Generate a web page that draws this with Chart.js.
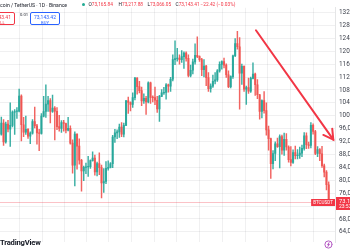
<!DOCTYPE html>
<html><head><meta charset="utf-8">
<script src="https://cdn.jsdelivr.net/npm/chart.js@4.4.1/dist/chart.umd.min.js"></script>
<style>
html,body{margin:0;padding:0;background:#fff;overflow:hidden}
#wrap{position:relative;width:350px;height:250px;overflow:hidden;font-family:Roboto,"Liberation Sans",sans-serif;color:#131722}
#c{position:absolute;left:0;top:0}
.t{position:absolute;white-space:nowrap;line-height:1}
.h{font-size:4.8px;top:2.8px}
.box{position:absolute;box-sizing:border-box;border:1px solid;border-radius:2px;background:#fff;text-align:center;line-height:1}
.box .p{display:block;font-size:5px;margin-top:1.6px}
.box .s{display:block;font-size:4.2px;margin-top:1.2px}
.dot{position:absolute;left:81.8px;top:3.3px;width:3.2px;height:3.2px;border-radius:50%;background:#22ab94}
.k{color:#131722}.v{color:#f23645}
</style></head>
<body>
<div id="wrap">
<canvas id="c" width="350" height="250"></canvas>
<div class="t h" id="title" style="font-size:5.1px;top:2.6px"><span id="bit">Bit</span>coin / TetherUS · 1D · Binance</div>
<div class="dot"></div>
<div class="t h" style="left:88.5px"><span class="k">O</span><span class="v">73,165.84</span></div>
<div class="t h" style="left:118.5px"><span class="k">H</span><span class="v">73,217.88</span></div>
<div class="t h" style="left:147.5px"><span class="k">L</span><span class="v">73,066.05</span></div>
<div class="t h" style="left:175.5px"><span class="k">C</span><span class="v">73,143.41</span></div>
<div class="t h v" style="left:200.5px">−22.42 (−0.03%)</div>
<div class="box" style="left:-15px;top:12px;width:30px;height:13px;border-color:#f23645;color:#f23645"><span class="p">73,143.41</span><span class="s">SELL</span></div>
<div class="t" style="left:20px;top:13.2px;font-size:4.2px">0.01</div>
<div class="box" style="left:30px;top:12px;width:30px;height:13px;border-color:#2962ff;color:#2962ff"><span class="p">73,143.42</span><span class="s">BUY</span></div>
<div class="t" style="left:0px;top:238.5px;font-size:7.6px;font-weight:700;letter-spacing:-0.2px">TradingView</div>
</div>
<script>
// 3-day candles (thousand USDT), first candle centred on day 1 (21 Nov 2024)
const opens = [
94.3,97.7,91.9,97.4,95.8,97.0,101.1,101.3,101.4,106.1,
97.2,94.9,95.8,93.7,94.6,98.2,96.9,94.7,94.5,99.9,
101.3,103.6,104.7,101.3,102.4,101.4,96.6,96.1,97.9,97.6,
95.5,96.1,91.5,84.7,94.3,90.6,86.2,82.9,84.0,84.1,
84.2,86.1,86.9,82.6,85.2,83.9,79.2,79.6,83.7,84.0,
85.1,93.4,94.7,95.0,96.5,94.3,97.0,104.6,104.1,103.5,
105.6,111.7,109.0,107.8,104.6,105.4,104.3,110.2,105.7,105.6,
104.8,102.1,106.0,107.1,107.2,109.6,109.2,111.3,117.4,117.7,
117.9,117.4,118.3,119.4,117.8,112.5,114.1,116.7,118.7,118.3,
117.4,114.3,115.4,111.8,108.4,109.2,110.7,111.1,113.9,115.9,
116.8,115.7,112.7,109.0,112.1,118.6,122.4,121.4,113.2,115.3,
108.2,108.7,107.6,111.6,112.9,109.6,106.5,101.3,104.7,101.6,
95.6,92.9,85.1,88.3,91.3,90.4,93.5,89.3,92.7,90.3,
86.4,85.5,88.6,87.6,87.8,88.4,89.9,93.8,91.0,90.8,
97.0,95.1,88.3,89.5,88.2,84.5,82.5,78.6];
const highs = [
99.6,98.8,98.0,98.6,104.0,101.5,101.9,102.5,108.3,106.5,
99.5,99.9,96.0,95.0,98.8,102.7,97.3,95.8,100.7,106.0,
109.6,106.0,105.3,106.4,102.8,102.5,100.1,98.5,98.6,97.7,
99.5,96.9,92.5,95.0,94.4,92.8,86.5,84.4,85.3,87.4,
86.3,88.8,87.8,85.6,88.5,84.7,83.6,85.8,86.0,85.5,
93.9,95.8,95.6,97.4,97.9,97.7,104.8,105.8,104.3,107.1,
111.9,111.8,110.7,108.9,106.8,106.0,110.5,110.4,106.2,108.9,
106.0,106.3,108.1,108.8,110.0,109.8,111.9,118.9,123.2,120.9,
118.9,120.2,119.8,119.8,118.9,115.7,117.6,122.3,124.5,118.6,
117.8,117.4,115.6,113.4,109.9,112.6,113.4,114.3,116.7,117.0,
117.9,116.1,113.9,112.4,118.8,123.9,126.2,124.2,116.0,115.5,
109.2,111.7,112.0,116.4,113.2,111.2,106.6,104.9,107.5,104.0,
96.8,93.1,89.2,91.9,93.1,94.1,94.0,94.6,94.5,90.7,
90.4,89.4,90.6,89.5,90.3,90.9,94.8,94.7,91.8,97.9,
97.5,95.5,90.4,89.8,90.5,85.0,83.0,79.5];
const lows = [
94.0,90.8,91.5,95.0,90.5,96.5,94.2,99.2,101.2,92.2,
93.5,94.2,93.0,91.3,94.3,96.2,91.2,89.2,94.3,99.6,
99.5,101.3,97.8,101.0,92.5,95.7,95.2,94.8,95.2,94.7,
95.3,91.2,82.2,78.2,83.4,85.0,76.6,79.9,82.0,81.2,
83.7,85.9,81.6,81.3,81.7,74.5,76.2,78.9,83.1,83.8,
83.9,91.7,92.9,93.3,93.5,93.4,96.9,100.7,101.5,102.6,
104.9,106.7,107.1,103.1,103.8,100.4,104.0,103.8,104.3,103.4,
101.0,98.2,105.9,106.6,105.1,107.3,107.5,110.8,115.8,116.9,
116.0,116.5,114.7,116.9,112.0,112.0,113.0,116.0,118.0,116.8,
112.4,112.0,109.3,107.5,107.3,108.8,109.9,110.6,113.5,114.4,
114.8,111.9,108.7,108.6,111.6,118.3,120.6,102.0,109.7,107.5,
103.5,106.9,107.2,111.4,106.3,105.3,98.9,99.3,100.8,94.0,
89.3,80.6,83.5,86.1,90.2,83.8,88.1,87.7,89.3,85.6,
84.4,85.2,86.6,86.6,86.8,87.3,89.3,89.8,89.9,90.0,
94.3,87.9,87.3,86.1,84.0,81.0,77.0,72.8];
const closes = [
97.7,91.9,97.4,95.8,97.0,101.1,101.3,101.4,106.1,97.2,
94.9,95.8,93.7,94.6,98.2,96.9,94.7,94.5,99.9,101.3,
103.6,104.7,101.3,102.4,101.4,96.6,96.1,97.9,97.6,95.5,
96.1,91.5,84.7,94.3,90.6,86.2,82.9,84.0,84.1,84.2,
86.1,86.9,82.6,85.2,83.9,79.2,79.6,83.7,84.0,85.1,
93.4,94.7,95.0,96.5,94.3,97.0,104.6,104.1,103.5,105.6,
111.7,109.0,107.8,104.6,105.4,104.3,110.2,105.7,105.6,104.8,
102.1,106.0,107.1,107.2,109.6,109.2,111.3,117.4,117.7,117.9,
117.4,118.3,119.4,117.8,112.5,114.1,116.7,118.7,118.3,117.4,
114.3,115.4,111.8,108.4,109.2,110.7,111.1,113.9,115.9,116.8,
115.7,112.7,109.0,112.1,118.6,122.4,121.4,113.2,115.3,108.2,
108.7,107.6,111.6,112.9,109.6,106.5,101.3,104.7,101.6,95.6,
92.9,85.1,88.3,91.3,90.4,93.5,89.3,92.7,90.3,86.4,
85.5,88.6,87.6,87.8,88.4,89.9,93.8,91.0,90.8,97.0,
95.1,88.3,89.5,88.2,84.5,82.5,78.6,73.14];
// month starts (days since 21 Nov 2024) for the vertical grid
const monthDays = [10,41,72,100,131,161,192,222,253,284,314,345,375,406,437];
// price scale ticks (thousand)
const priceTicks = [64,68,72,76,80,84,88,92,96,100,104,108,112,116,120,124,128,132];
// drawn trend arrow: [day, price]
const arrowFrom = [344, 126.5];
const arrowTo = [448.2, 92.6];
const symbolTag = 'BTCUSDT';
const countdown = '23:52:18';

document.getElementById('title').style.left = (-document.getElementById('bit').offsetWidth) + 'px';

const up = 'rgba(38,166,154,0.9)', dn = 'rgba(239,83,80,0.9)';
const cols = closes.map((c, i) => c >= opens[i] ? up : dn);
const wickData = closes.map((c, i) => ({x: i * 3 + 1, y: [lows[i], highs[i]]}));
const bodyData = closes.map((c, i) => ({x: i * 3 + 1, y: [opens[i], c]}));
const gridCol = 'rgba(42,46,57,0.07)';
const lastPrice = closes[closes.length - 1];
const fmt = v => v.toLocaleString('en-US', {minimumFractionDigits: 2, maximumFractionDigits: 2});

const overlay = {
  id: 'overlay',
  beforeDraw(chart) {
    const c = chart.ctx; c.save(); c.fillStyle = '#fff'; c.fillRect(0, 0, chart.width, chart.height); c.restore();
  },
  afterDraw(chart) {
    const {ctx, chartArea: ca, scales: {x, y}} = chart;
    const py = Math.round(y.getPixelForValue(lastPrice)) + 0.5;
    ctx.save();
    ctx.strokeStyle = 'rgba(242,54,69,0.3)'; ctx.lineWidth = 1;
    ctx.beginPath(); ctx.moveTo(ca.left, py); ctx.lineTo(ca.right, py); ctx.stroke();
    const x1 = x.getPixelForValue(arrowFrom[0]), y1 = y.getPixelForValue(arrowFrom[1]);
    const x2 = x.getPixelForValue(arrowTo[0]), y2 = y.getPixelForValue(arrowTo[1]);
    const ang = Math.atan2(y2 - y1, x2 - x1);
    ctx.strokeStyle = '#f23645'; ctx.lineWidth = 2; ctx.lineCap = 'round';
    ctx.beginPath(); ctx.moveTo(x1, y1); ctx.lineTo(x2, y2); ctx.stroke();
    const L = 11;
    ctx.beginPath();
    ctx.moveTo(x2 + L * Math.cos(ang + Math.PI - 0.52), y2 + L * Math.sin(ang + Math.PI - 0.52));
    ctx.lineTo(x2, y2);
    ctx.lineTo(x2 + L * Math.cos(ang + Math.PI + 0.52), y2 + L * Math.sin(ang + Math.PI + 0.52));
    ctx.stroke();
    ctx.font = '4.6px Roboto';
    const tw = ctx.measureText(symbolTag).width + 4;
    ctx.fillStyle = '#f23645';
    ctx.fillRect(ca.right - tw, py - 3.5, tw, 7);
    ctx.fillStyle = '#fff'; ctx.textAlign = 'left'; ctx.textBaseline = 'middle';
    ctx.fillText(symbolTag, ca.right - tw + 2, py + 0.2);
    ctx.fillStyle = '#f23645';
    ctx.fillRect(ca.right + 1, py - 5.5, 30, 13);
    ctx.fillStyle = '#fff';
    ctx.font = '5.8px Roboto';
    ctx.fillText(fmt(lastPrice), ca.right + 4, py - 1);
    ctx.font = '5px Roboto';
    ctx.fillText(countdown, ca.right + 4, py + 4.3);
    ctx.strokeStyle = '#ab47bc'; ctx.lineWidth = 0.9;
    ctx.beginPath(); ctx.arc(ca.right - 6.5, 244.5, 3.6, 0, Math.PI * 2); ctx.stroke();
    ctx.beginPath(); ctx.moveTo(ca.right - 6, 242.6); ctx.lineTo(ca.right - 7.4, 244.8); ctx.lineTo(ca.right - 5.6, 244.3); ctx.lineTo(ca.right - 7, 246.4); ctx.stroke();
    ctx.restore();
  }
};

new Chart(document.getElementById('c'), {
  type: 'bar',
  data: {datasets: [
    {data: wickData, backgroundColor: cols, barThickness: 0.8, grouped: false, order: 2},
    {data: bodyData, backgroundColor: cols, barThickness: 1.4, grouped: false, order: 1, minBarLength: 0.6}
  ]},
  options: {
    responsive: false, animation: false, events: [],
    layout: {padding: 0},
    plugins: {legend: {display: false}, tooltip: {enabled: false}},
    scales: {
      x: {
        type: 'linear', min: -0.78, max: 450.5, offset: false,
        grid: {color: gridCol, drawTicks: false}, border: {display: false},
        ticks: {display: false},
        afterBuildTicks: s => { s.ticks = monthDays.map(v => ({value: v})); },
        afterFit: s => { s.height = 0; }
      },
      y: {
        position: 'right', min: 60.8, max: 133.45,
        grid: {color: gridCol, drawTicks: false},
        border: {display: true, color: 'rgba(42,46,57,0.12)'},
        ticks: {color: '#3b3f4a', padding: 4, font: {size: 6.4, family: 'Roboto'},
                callback: v => v + ',000.00'},
        afterBuildTicks: s => { s.ticks = priceTicks.map(v => ({value: v})); },
        afterFit: s => { s.width = 15; }
      }
    }
  },
  plugins: [overlay]
});
</script>
</body></html>
